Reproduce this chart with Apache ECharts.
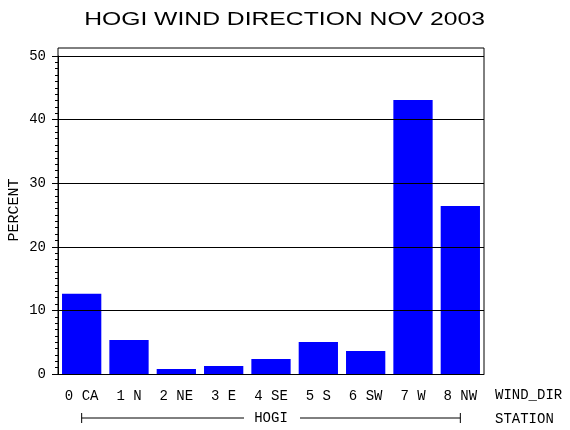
<!DOCTYPE html>
<html>
<head>
<meta charset="utf-8">
<script src="https://cdn.jsdelivr.net/npm/echarts@6/dist/echarts.min.js"></script>
<style>html,body{margin:0;padding:0;background:#fff}#c{width:570px;height:430px}</style>
</head>
<body>
<div id="c"></div>
<script>
const titleText = 'HOGI WIND DIRECTION NOV 2003';
const categories = ['0 CA', '1 N', '2 NE', '3 E', '4 SE', '5 S', '6 SW', '7 W', '8 NW'];
const percentValues = [12.6, 5.35, 0.8, 1.25, 2.35, 5.05, 3.6, 43.1, 26.4];
const groupLabel = 'HOGI';
const xAxisTitle = 'WIND_DIR';
const groupAxisTitle = 'STATION';
const yAxisTitle = 'PERCENT';

const mono = 'Liberation Mono';
const chart = echarts.init(document.getElementById('c'), null, {renderer: 'canvas'});
chart.setOption({
  animation: false,
  backgroundColor: '#fff',
  grid: {left: 58, right: 86, top: 56, bottom: 56, containLabel: false, outerBoundsMode: 'none'},
  xAxis: {
    type: 'category',
    data: categories,
    axisLine: {lineStyle: {color: '#000', width: 1}},
    axisTick: {show: false},
    axisLabel: {color: '#000', fontFamily: mono, fontSize: 14, margin: 15}
  },
  yAxis: {
    type: 'value',
    min: 0, max: 50, interval: 10,
    z: 10,
    name: yAxisTitle,
    nameLocation: 'middle',
    nameRotate: 90,
    nameGap: 36,
    nameMoveOverlap: false,
    nameTextStyle: {color: '#000', fontFamily: mono, fontSize: 15, padding: [0, 0, 0, 10]},
    axisLine: {show: true, lineStyle: {color: '#000', width: 1}},
    axisTick: {show: true, length: 6, lineStyle: {color: '#000'}},
    minorTick: {show: true, splitNumber: 10, length: 3, lineStyle: {color: '#000'}},
    splitLine: {show: true, lineStyle: {color: '#000', width: 1}},
    axisLabel: {color: '#000', fontFamily: mono, fontSize: 14, margin: 12}
  },
  series: [{
    type: 'bar',
    data: percentValues,
    barCategoryGap: '17%',
    itemStyle: {color: '#0000ff'}
  }]
});

const rect = chart.getModel().getComponent('grid', 0).coordinateSystem.getRect();
const left = rect.x, right = rect.x + rect.width, bottom = rect.y + rect.height;
const frameTop = rect.y - 8;
const x0 = chart.convertToPixel({xAxisIndex: 0}, categories[0]);
const x8 = chart.convertToPixel({xAxisIndex: 0}, categories[categories.length - 1]);
const cx = (x0 + x8) / 2;
const rowY = bottom + 44;
const textStyle = {fill: '#000', fontFamily: mono, fontSize: 14};
chart.setOption({
  graphic: [
    {type: 'polyline', z: 20, silent: true,
     shape: {points: [[left, bottom], [left, frameTop], [right, frameTop], [right, bottom]]},
     style: {stroke: '#000', lineWidth: 1, fill: null}},
    {type: 'text', x: 284.5, y: 20, scaleX: 1.3, scaleY: 1,
     style: {text: titleText, fill: '#000', fontFamily: 'Liberation Sans', fontSize: 19, align: 'center', verticalAlign: 'middle'}},
    {type: 'text', x: right + 11, y: bottom + 21,
     style: Object.assign({text: xAxisTitle, align: 'left', verticalAlign: 'middle'}, textStyle)},
    {type: 'text', x: right + 11, y: rowY + 1,
     style: Object.assign({text: groupAxisTitle, align: 'left', verticalAlign: 'middle'}, textStyle)},
    {type: 'text', x: cx, y: rowY,
     style: Object.assign({text: groupLabel, align: 'center', verticalAlign: 'middle'}, textStyle)},
    {type: 'line', shape: {x1: x0, y1: rowY, x2: cx - 27, y2: rowY}, style: {stroke: '#000', lineWidth: 1}},
    {type: 'line', shape: {x1: cx + 29, y1: rowY, x2: x8, y2: rowY}, style: {stroke: '#000', lineWidth: 1}},
    {type: 'line', shape: {x1: x0, y1: rowY - 5, x2: x0, y2: rowY + 5}, style: {stroke: '#000', lineWidth: 1}},
    {type: 'line', shape: {x1: x8, y1: rowY - 5, x2: x8, y2: rowY + 5}, style: {stroke: '#000', lineWidth: 1}}
  ]
});
</script>
</body>
</html>
